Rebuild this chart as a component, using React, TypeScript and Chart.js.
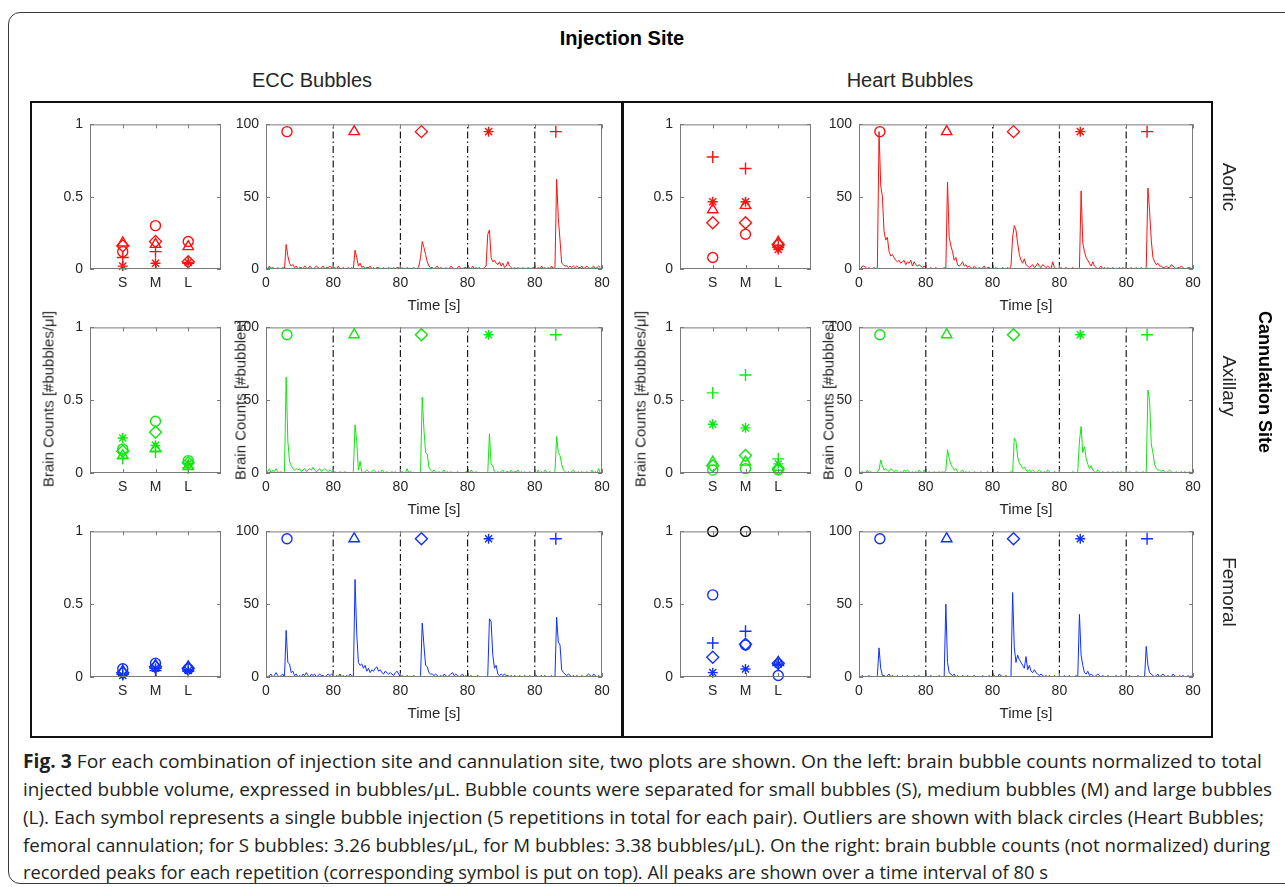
import React, { useEffect, useRef } from 'react';
import { Chart, registerables } from 'chart.js';
Chart.register(...registerables);

// ---------- data ----------
const sizeCategories = ['S', 'M', 'L'];
const repetitionMarkers = ['circle', 'triangle', 'rectRot', 'star', 'cross'];
const markerRadius = [5, 6, 6, 5, 6];

const scatterYTickValues = [0, 0.5, 1];
const scatterYTickLabels = ['0', '0.5', '1'];
const timeXTickValues = [0, 80, 160, 240, 320, 400];
const timeXTickLabels = ['0', '80', '80', '80', '80', '80'];
const timeYTickValues = [0, 50, 100];
const timeYTickLabels = ['0', '50', '100'];

const segmentLength = 80;
const sampleStep = 2;
const segmentBoundaries = [80, 160, 240, 320];
const markerTimes = [25, 105, 185, 265, 345];
const markerLevel = 95;

// normalized brain counts, rows = repetition (o, ^, d, *, +), columns = S, M, L
const eccAorticNorm = [
  [0.12, 0.30, 0.19],
  [0.18, 0.17, 0.155],
  [0.16, 0.19, 0.05],
  [0.02, 0.04, 0.045],
  [0.08, 0.12, 0.04],
];
const heartAorticNorm = [
  [0.08, 0.24, 0.165],
  [0.41, 0.44, 0.185],
  [0.32, 0.32, 0.17],
  [0.465, 0.465, 0.135],
  [0.775, 0.695, 0.15],
];
const eccAxillaryNorm = [
  [0.165, 0.355, 0.085],
  [0.12, 0.17, 0.045],
  [0.15, 0.28, 0.07],
  [0.24, 0.19, 0.065],
  [0.10, 0.145, 0.035],
];
const heartAxillaryNorm = [
  [0.02, 0.03, 0.02],
  [0.075, 0.075, 0.04],
  [0.05, 0.12, 0.03],
  [0.335, 0.31, 0.063],
  [0.55, 0.673, 0.097],
];
const eccFemoralNorm = [
  [0.057, 0.095, 0.055],
  [0.04, 0.08, 0.07],
  [0.03, 0.07, 0.06],
  [0.01, 0.06, 0.045],
  [0.02, 0.045, 0.04],
];
const heartFemoralNorm = [
  [0.564, 0.22, 0.01],
  [null, null, 0.10],
  [0.136, 0.225, 0.095],
  [0.03, 0.055, 0.09],
  [0.234, 0.314, 0.085],
];
const heartFemoralOutliers = [3.26, 3.38, null];
const scatterYMax = 1;

// brain counts per peak (5 repetitions x 80 s, sampled every 2 s)
const eccAorticPeaks = [
  [1,0,2,0,1,0,0,1,0,0, 1,0,17,9,4,2,3,1,2,0, 1,1,0,2,1,0,2,1,0,1, 2,1,0,1,2,0,1,1,2,1],
  [0,1,0,2,0,0,1,0,0,1, 0,1,0,13,8,2,4,1,2,0, 1,1,2,0,1,0,1,1,0,0, 1,0,0,1,0,0,1,0,1,1],
  [0,1,0,0,1,0,0,0,1,0, 0,2,8,19,15,10,5,2,1,1, 0,1,2,0,1,0,0,1,0,0, 2,1,0,0,1,2,0,0,1,1],
  [0,1,0,2,0,1,0,1,0,0, 1,2,24,27,8,5,6,4,3,5, 2,4,1,2,5,2,1,0,1,0, 1,0,0,1,0,0,1,0,0,1],
  [1,0,1,0,2,0,1,0,1,0, 2,0,1,62,35,20,4,3,2,2, 1,2,1,2,1,2,1,1,2,0, 1,2,1,0,1,2,0,1,2,1],
];
const heartAorticPeaks = [
  [1,0,2,2,1,0,1,0,0,1, 0,1,95,58,50,26,20,22,12,9, 10,8,6,5,6,4,5,6,3,5, 4,6,2,5,3,2,3,2,1,2],
  [1,0,0,1,0,0,1,0,0,0, 0,1,0,60,22,16,12,6,8,3, 2,3,5,2,3,1,2,1,0,2, 1,0,1,0,1,2,0,1,1,0],
  [0,0,1,0,0,0,1,0,0,1, 0,2,22,30,27,18,10,6,4,7, 3,2,1,2,3,1,2,4,2,1, 3,2,1,2,1,0,5,1,0,0],
  [0,1,0,0,1,0,0,0,1,0, 0,0,1,54,18,12,8,6,4,2, 5,2,1,0,1,2,0,1,0,1, 0,0,1,0,0,0,1,0,1,0],
  [1,0,0,1,0,0,1,0,0,1, 0,0,1,56,40,20,8,5,3,4, 2,2,1,1,2,1,1,3,2,1, 0,1,1,2,1,0,0,1,1,0],
];
const eccAxillaryPeaks = [
  [2,1,3,0,2,1,3,1,0,1, 0,1,66,22,8,5,3,2,3,2, 3,1,2,3,1,2,3,2,4,2, 1,2,3,1,2,3,2,1,2,1],
  [0,1,0,0,1,0,0,1,0,0, 0,0,1,33,22,2,8,1,0,1, 2,1,0,1,2,1,0,1,0,2, 1,0,1,0,0,1,0,1,0,0],
  [0,1,0,0,3,0,1,0,0,0, 0,0,1,52,30,14,13,4,2,1, 2,1,0,1,0,1,2,0,1,0, 1,0,0,0,1,0,0,0,0,1],
  [1,0,2,1,0,1,0,0,0,0, 0,0,0,27,6,5,1,0,1,0, 1,2,0,1,1,0,2,0,1,1, 2,0,1,0,1,0,0,1,0,0],
  [1,0,2,0,1,0,2,1,0,1, 0,0,1,25,14,12,6,2,1,0, 1,0,1,2,0,0,1,0,1,0, 0,1,0,0,2,0,1,0,3,0],
];
const heartAxillaryPeaks = [
  [0,0,1,0,0,2,0,1,0,0, 0,1,2,9,5,2,3,2,1,3, 2,1,2,1,0,1,0,2,1,2, 1,0,1,0,1,0,2,1,0,2],
  [0,0,1,0,0,1,0,0,1,0, 1,0,2,16,10,6,4,2,3,1, 0,1,2,0,1,0,1,0,0,1, 0,0,0,1,0,0,0,1,0,0],
  [0,0,0,1,0,0,0,0,0,0, 0,1,0,24,22,11,7,5,3,4, 2,1,2,1,2,1,0,1,2,1, 0,1,0,2,1,0,0,1,0,0],
  [0,0,0,0,0,0,0,0,1,0, 0,1,22,32,14,18,10,6,3,5, 2,1,0,2,1,0,1,0,0,1, 0,0,1,0,0,1,0,1,0,0],
  [0,0,1,0,0,0,1,0,0,0, 1,0,1,57,50,20,14,6,3,2, 2,1,2,1,0,1,2,1,0,0, 1,0,0,1,0,1,0,0,1,0],
];
const eccFemoralPeaks = [
  [1,0,1,2,0,1,3,1,0,1, 2,0,32,10,9,3,4,1,2,0, 1,0,2,1,3,1,0,2,1,2, 0,1,2,1,1,0,1,2,1,2],
  [1,0,1,0,2,0,1,0,1,0, 2,1,0,67,30,10,8,9,6,8, 4,6,3,5,4,6,7,4,5,3, 2,4,3,2,3,2,1,3,4,2],
  [0,1,0,0,1,0,0,0,1,0, 0,0,1,37,22,8,7,3,2,2, 1,2,1,0,1,0,2,1,0,1, 2,3,1,2,1,0,1,2,0,1],
  [0,0,1,0,0,0,1,0,0,0, 0,0,1,40,38,15,6,8,2,1, 2,1,2,1,1,0,1,0,1,0, 0,1,0,0,1,0,0,1,0,0],
  [0,1,0,0,1,0,1,0,0,0, 1,0,0,41,24,22,5,3,2,1, 2,1,0,1,0,1,0,0,1,0, 0,1,2,1,0,2,1,0,1,0],
];
const heartFemoralPeaks = [
  [0,0,1,0,0,0,1,0,0,0, 0,1,20,6,1,1,0,1,2,0, 1,0,0,1,0,0,1,0,0,1, 0,0,0,1,0,0,1,0,0,0],
  [0,0,0,1,0,0,0,0,1,0, 0,0,50,10,3,2,1,2,0,1, 0,0,1,0,0,1,0,0,0,1, 0,0,0,0,1,0,0,0,1,0],
  [0,1,0,0,2,1,0,0,1,0, 0,0,58,20,10,15,12,10,8,6, 14,5,8,4,3,5,3,2,1,2, 1,0,1,0,1,0,0,1,0,0],
  [0,0,0,1,0,0,1,0,0,0, 1,0,43,15,8,3,2,4,1,2, 1,0,1,2,1,0,1,0,0,1, 0,0,0,0,1,0,0,1,0,0],
  [0,0,1,0,0,0,0,1,0,0, 0,0,21,8,3,2,1,0,1,2, 0,1,2,1,0,1,0,0,2,1, 0,0,1,0,1,0,0,1,0,1],
];

const RED = '#ff1010';
const GREEN = '#10e610';
const BLUE = '#1030ff';

// ---------- styling ----------
const FONT = "'Liberation Sans', Arial, Helvetica, sans-serif";
const TEXT = '#262626';
const M = { left: 60, right: 16, top: 14, bottom: 34 };
type Rect = { l: number; t: number; r: number; b: number };

const boxPlugin = {
  id: 'matlabBox',
  afterDraw(chart: any) {
    const { ctx, chartArea: a, scales } = chart;
    ctx.save();
    ctx.strokeStyle = '#7a7a7a';
    ctx.lineWidth = 1;
    ctx.strokeRect(a.left + 0.5, a.top + 0.5, a.right - a.left - 1, a.bottom - a.top - 1);
    ctx.beginPath();
    const tl = 4;
    scales.x.ticks.forEach((tk: any) => {
      const p = Math.round(scales.x.getPixelForValue(tk.value)) + 0.5;
      ctx.moveTo(p, a.bottom); ctx.lineTo(p, a.bottom - tl);
      ctx.moveTo(p, a.top); ctx.lineTo(p, a.top + tl);
    });
    scales.y.ticks.forEach((tk: any) => {
      const p = Math.round(scales.y.getPixelForValue(tk.value)) + 0.5;
      ctx.moveTo(a.left, p); ctx.lineTo(a.left + tl, p);
      ctx.moveTo(a.right, p); ctx.lineTo(a.right - tl, p);
    });
    ctx.stroke();
    ctx.restore();
  },
};

function baseOptions(xMin: number, xMax: number, xVals: number[], xLabels: string[], yMin: number, yMax: number, yVals: number[], yLabels: string[]) {
  const tickFont = { family: FONT, size: 14 };
  return {
    responsive: false,
    animation: false,
    events: [],
    layout: { padding: { left: 0, right: M.right, top: M.top, bottom: 0 } },
    plugins: { legend: { display: false }, tooltip: { enabled: false } },
    scales: {
      x: {
        type: 'linear', min: xMin, max: xMax,
        afterBuildTicks: (s: any) => { s.ticks = xVals.map((v) => ({ value: v })); },
        afterFit: (s: any) => { s.height = M.bottom; },
        grid: { display: false, drawTicks: false }, border: { display: false },
        ticks: { callback: (_v: any, i: number) => xLabels[i], font: tickFont, color: TEXT, padding: 6, maxRotation: 0, autoSkip: false },
      },
      y: {
        type: 'linear', min: yMin, max: yMax,
        afterBuildTicks: (s: any) => { s.ticks = yVals.map((v) => ({ value: v })); },
        afterFit: (s: any) => { s.width = M.left; },
        grid: { display: false, drawTicks: false }, border: { display: false },
        ticks: { callback: (_v: any, i: number) => yLabels[i], font: tickFont, color: TEXT, padding: 7, autoSkip: false },
      },
    },
  };
}

function scatterConfig(values: (number | null)[][], color: string, outliers?: (number | null)[]) {
  const datasets: any[] = values.map((rep, r) => ({
    data: rep.map((v, i) => (v == null ? null : { x: i + 1, y: v })).filter(Boolean),
    pointStyle: repetitionMarkers[r],
    pointRadius: markerRadius[r],
    borderColor: color,
    backgroundColor: 'rgba(0,0,0,0)',
    pointBorderWidth: 1.4,
    showLine: false,
    clip: false,
  }));
  if (outliers) {
    datasets.push({
      data: outliers.map((v, i) => (v == null ? null : { x: i + 1, y: Math.min(v, scatterYMax) })).filter(Boolean),
      pointStyle: 'circle', pointRadius: 5, borderColor: '#000', backgroundColor: 'rgba(0,0,0,0)',
      pointBorderWidth: 1.4, showLine: false, clip: false,
    });
  }
  return {
    type: 'scatter',
    data: { datasets },
    options: baseOptions(0, 4, [1, 2, 3], sizeCategories, 0, scatterYMax, scatterYTickValues, scatterYTickLabels),
    plugins: [boxPlugin],
  };
}

function timeConfig(segments: number[][], color: string) {
  const series = segments.flatMap((seg, k) => seg.map((v, i) => ({ x: k * segmentLength + i * sampleStep, y: v })));
  const datasets: any[] = [
    {
      data: markerTimes.map((t) => ({ x: t, y: markerLevel })),
      pointStyle: repetitionMarkers, pointRadius: markerRadius,
      borderColor: color, backgroundColor: 'rgba(0,0,0,0)', pointBorderWidth: 1.4,
      showLine: false, clip: false,
    },
    ...segmentBoundaries.map((b) => ({
      data: [{ x: b, y: 0 }, { x: b, y: 100 }],
      showLine: true, borderColor: '#1a1a1a', borderWidth: 1.2, borderDash: [7, 3, 1.5, 3], pointRadius: 0,
    })),
    { data: series, showLine: true, borderColor: color, borderWidth: 1, pointRadius: 0, tension: 0 },
  ];
  return {
    type: 'scatter',
    data: { datasets },
    options: baseOptions(0, segmentLength * segments.length, timeXTickValues, timeXTickLabels, 0, 100, timeYTickValues, timeYTickLabels),
    plugins: [boxPlugin],
  };
}

function PlotCanvas({ rect, build }: { rect: Rect; build: () => any }) {
  const ref = useRef<HTMLCanvasElement>(null);
  const w = rect.r - rect.l + M.left + M.right;
  const h = rect.b - rect.t + M.top + M.bottom;
  useEffect(() => {
    const chart = new Chart(ref.current as HTMLCanvasElement, build());
    return () => chart.destroy();
  }, []);
  return (
    <canvas ref={ref} width={w} height={h}
      style={{ position: 'absolute', left: rect.l - M.left, top: rect.t - M.top, width: w, height: h }} />
  );
}

function Label({ x, y, text, rot = 0, size = 15, bold = false }: { x: number; y: number; text: string; rot?: number; size?: number; bold?: boolean }) {
  return (
    <div style={{
      position: 'absolute', left: x, top: y, transform: `translate(-50%,-50%) rotate(${rot}deg)`,
      whiteSpace: 'nowrap', fontFamily: FONT, fontSize: size, fontWeight: bold ? 'bold' : 'normal', color: bold ? '#000' : TEXT, lineHeight: 1,
    }}>{text}</div>
  );
}

const rows = [
  { t: 123, b: 269 },
  { t: 326, b: 473 },
  { t: 530, b: 677 },
];
const cols = {
  eccS: { l: 90, r: 221 },
  eccT: { l: 266, r: 602 },
  heartS: { l: 680, r: 811 },
  heartT: { l: 859, r: 1193 },
};

const captionLines = [
  { bold: 'Fig. 3', text: ' For each combination of injection site and cannulation site, two plots are shown. On the left: brain bubble counts normalized to total', w: 1239 },
  { bold: '', text: 'injected bubble volume, expressed in bubbles/μL. Bubble counts were separated for small bubbles (S), medium bubbles (M) and large bubbles', w: 1249 },
  { bold: '', text: '(L). Each symbol represents a single bubble injection (5 repetitions in total for each pair). Outliers are shown with black circles (Heart Bubbles;', w: 1241 },
  { bold: '', text: 'femoral cannulation; for S bubbles: 3.26 bubbles/μL, for M bubbles: 3.38 bubbles/μL). On the right: brain bubble counts (not normalized) during', w: 1247 },
  { bold: '', text: 'recorded peaks for each repetition (corresponding symbol is put on top). All peaks are shown over a time interval of 80 s', w: 1025 },
];

export default function App() {
  const panels = [
    { row: 0, s: eccAorticNorm, hs: heartAorticNorm, e: eccAorticPeaks, h: heartAorticPeaks, color: RED },
    { row: 1, s: eccAxillaryNorm, hs: heartAxillaryNorm, e: eccAxillaryPeaks, h: heartAxillaryPeaks, color: GREEN },
    { row: 2, s: eccFemoralNorm, hs: heartFemoralNorm, e: eccFemoralPeaks, h: heartFemoralPeaks, color: BLUE },
  ];
  return (
    <div style={{ position: 'absolute', left: 0, top: 0, width: 1285, height: 887, overflow: 'hidden', background: '#fff' }}>
      <div style={{ position: 'absolute', left: 8, top: 12, width: 1300, height: 872, border: '1.5px solid #3a3a3a', borderRadius: 12, boxSizing: 'border-box' }} />
      <div style={{ position: 'absolute', left: 30, top: 101, width: 1183, height: 637, border: '2px solid #111', boxSizing: 'border-box' }} />
      <div style={{ position: 'absolute', left: 621, top: 101, width: 2.5, height: 637, background: '#111' }} />

      <Label x={622} y={38} text="Injection Site" size={20} bold />
      <Label x={312} y={80} text="ECC Bubbles" size={20} />
      <Label x={910} y={80} text="Heart Bubbles" size={20} />

      {panels.map((p) => {
        const r = rows[p.row];
        return (
          <React.Fragment key={p.row}>
            <PlotCanvas rect={{ l: cols.eccS.l, r: cols.eccS.r, t: r.t, b: r.b }} build={() => scatterConfig(p.s, p.color)} />
            <PlotCanvas rect={{ l: cols.eccT.l, r: cols.eccT.r, t: r.t, b: r.b }} build={() => timeConfig(p.e, p.color)} />
            <PlotCanvas rect={{ l: cols.heartS.l, r: cols.heartS.r, t: r.t, b: r.b }} build={() => scatterConfig(p.hs, p.color, p.row === 2 ? heartFemoralOutliers : undefined)} />
            <PlotCanvas rect={{ l: cols.heartT.l, r: cols.heartT.r, t: r.t, b: r.b }} build={() => timeConfig(p.h, p.color)} />
            <Label x={(cols.eccT.l + cols.eccT.r) / 2} y={r.b + 35} text="Time [s]" />
            <Label x={(cols.heartT.l + cols.heartT.r) / 2} y={r.b + 35} text="Time [s]" />
          </React.Fragment>
        );
      })}

      <Label x={48} y={399} text="Brain Counts [#bubbles/μl]" rot={-90} />
      <Label x={640} y={399} text="Brain Counts [#bubbles/μl]" rot={-90} />
      <Label x={240} y={400} text="Brain Counts [#bubbles]" rot={-90} />
      <Label x={828} y={400} text="Brain Counts [#bubbles]" rot={-90} />

      <Label x={1229} y={187} text="Aortic" rot={90} size={19} />
      <Label x={1229} y={386} text="Axillary" rot={90} size={19} />
      <Label x={1229} y={592} text="Femoral" rot={90} size={19} />
      <Label x={1265} y={382} text="Cannulation Site" rot={90} size={18} bold />

      <svg width={1285} height={147} style={{ position: 'absolute', left: 0, top: 740 }}>
        {captionLines.map((ln, i) => (
          <text key={i} x={23} y={28 + i * 28 - (i === 4 ? 1 : 0)} textLength={ln.w} lengthAdjust="spacingAndGlyphs"
            style={{ fontFamily: "'Open Sans', 'Noto Sans', sans-serif", fontSize: 19, fill: '#231f20' }}>
            {ln.bold ? <tspan fontWeight="bold">{ln.bold}</tspan> : null}
            {ln.text}
          </text>
        ))}
      </svg>
    </div>
  );
}
